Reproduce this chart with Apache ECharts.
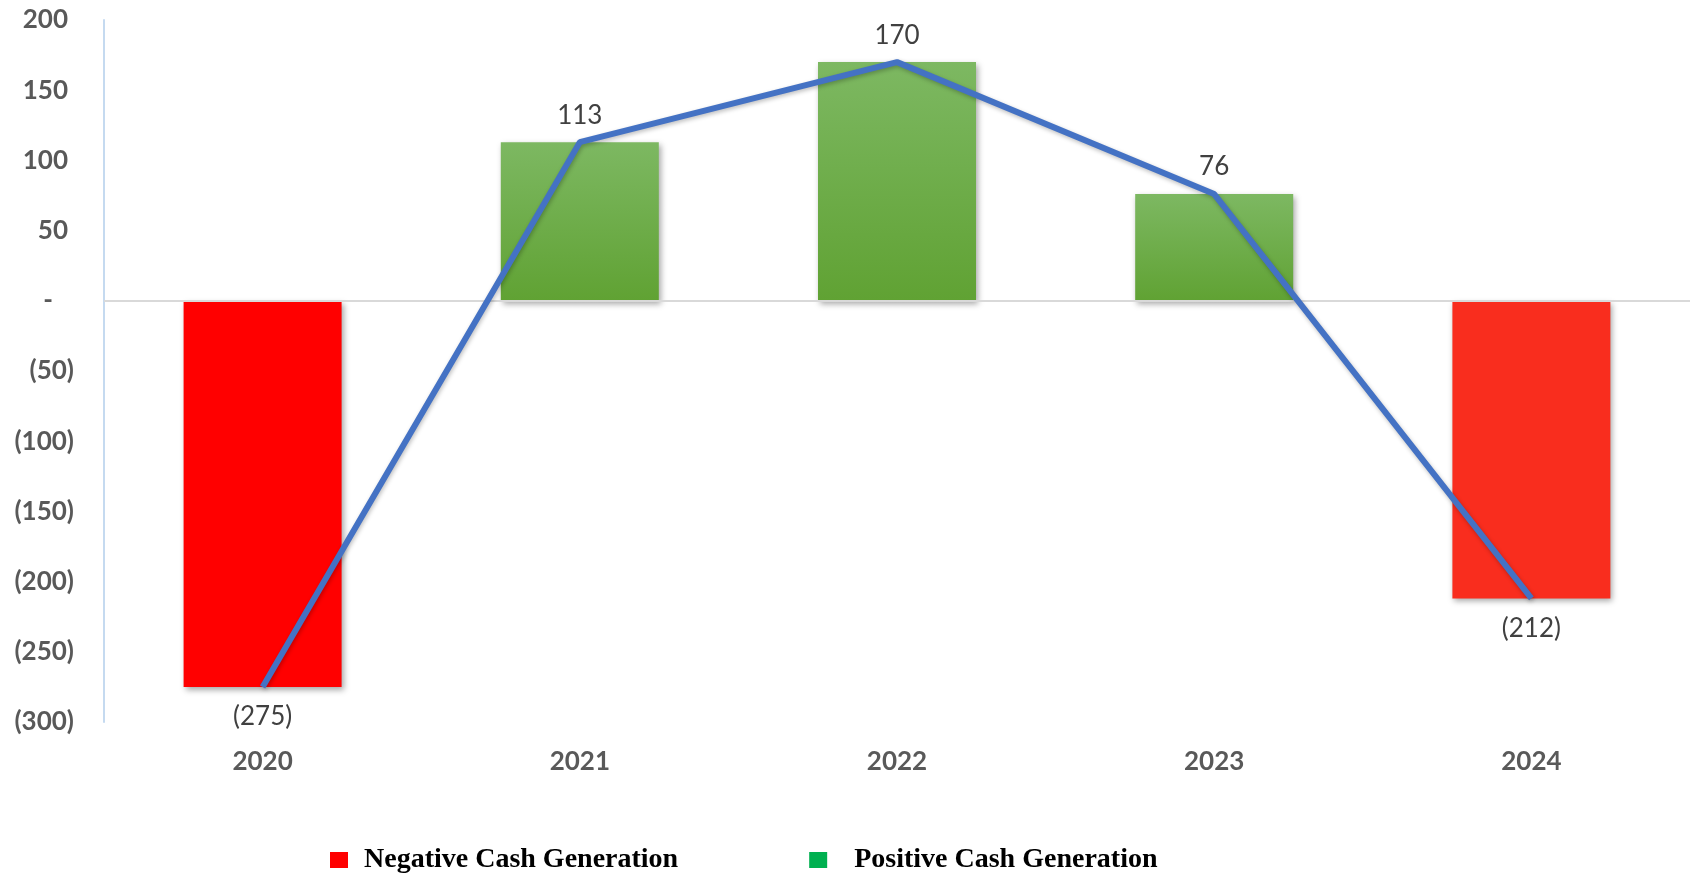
<!DOCTYPE html>
<html>
<head>
<meta charset="utf-8">
<script src="https://cdn.jsdelivr.net/npm/echarts@6/dist/echarts.min.js"></script>
<style>
  html, body { margin: 0; padding: 0; background: #ffffff; }
  #chart { width: 1691px; height: 873px; }
</style>
</head>
<body>
<div id="chart"></div>
<script>
// Yearly cash generation
const years = ['2020', '2021', '2022', '2023', '2024'];
const cashGeneration = [-275, 113, 170, 76, -212];
const negativeName = 'Negative Cash Generation';
const positiveName = 'Positive Cash Generation';

// split into the two bar series (gaps where the sign doesn't match)
const negativeValues = cashGeneration.map(v => (v < 0 ? v : '-'));
const positiveValues = cashGeneration.map(v => (v > 0 ? v : '-'));
const negativeColors = ['#FF0000', null, null, null, '#F92D1E'];

const labelFont = { fontFamily: 'Lato', fontSize: 26, color: '#404040' };
const barShadow = { shadowColor: 'rgba(0,0,0,0.35)', shadowBlur: 6, shadowOffsetX: 2, shadowOffsetY: 3 };
const legendText = {
  fontFamily: 'Liberation Serif',
  fontWeight: 'bold',
  fontSize: 28,
  color: '#000000'
};

const chart = echarts.init(document.getElementById('chart'), null, { renderer: 'canvas' });

chart.setOption({
  backgroundColor: '#ffffff',
  animation: false,
  grid: { left: 104, right: 1, top: 20, bottom: 151, containLabel: false },
  legend: {
    data: [
      {
        name: negativeName,
        itemStyle: { color: '#FF0000', shadowBlur: 0, shadowColor: 'transparent' },
        textStyle: Object.assign({ padding: [0, 0, 0, 11] }, legendText)
      },
      {
        name: positiveName,
        itemStyle: { color: '#00B050', shadowBlur: 0, shadowColor: 'transparent' },
        textStyle: Object.assign({ padding: [0, 0, 0, 22] }, legendText)
      }
    ],
    icon: 'rect',
    left: 325,
    top: 841,
    itemWidth: 18,
    itemHeight: 16,
    itemGap: 131,
    selectedMode: false,
    textStyle: legendText
  },
  xAxis: {
    type: 'category',
    data: years,
    boundaryGap: true,
    axisLine: { show: false },
    axisTick: { show: false },
    axisLabel: {
      margin: 27,
      fontFamily: 'Lato',
      fontWeight: 'bold',
      fontSize: 26,
      color: '#595959'
    },
    splitLine: { show: false }
  },
  yAxis: {
    type: 'value',
    min: -300,
    max: 200,
    interval: 50,
    axisLine: { show: true, onZero: false, lineStyle: { color: '#C5DAF0', width: 2 } },
    axisTick: { show: false },
    splitLine: { show: false },
    axisLabel: {
      margin: 30,
      formatter: function (v) {
        if (v > 0) return '{p|' + v + '}';
        if (v === 0) return '{z|-}';
        return '{n|(' + Math.abs(v) + ')}';
      },
      rich: {
        p: { fontFamily: 'Lato', fontWeight: 'bold', fontSize: 26, color: '#595959', padding: [0, 6, 0, 0] },
        z: { fontFamily: 'Lato', fontWeight: 'bold', fontSize: 26, color: '#595959', padding: [0, 21, 0, 0] },
        n: { fontFamily: 'Lato', fontWeight: 'bold', fontSize: 26, color: '#595959' }
      }
    }
  },
  series: [
    {
      name: negativeName,
      type: 'bar',
      barWidth: 158,
      barGap: '-100%',
      z: 2,
      data: negativeValues.map((v, i) => (v === '-' ? v : {
        value: v,
        itemStyle: { color: negativeColors[i] }
      })),
      itemStyle: Object.assign({ color: '#FF0000' }, barShadow),
      label: Object.assign({
        show: true,
        position: 'bottom',
        distance: 17,
        formatter: p => '(' + Math.abs(p.value) + ')'
      }, labelFont),
      markLine: {
        silent: true,
        symbol: 'none',
        label: { show: false },
        lineStyle: { color: '#D9D9D9', width: 2, type: 'solid' },
        data: [{ yAxis: 0 }]
      }
    },
    {
      name: positiveName,
      type: 'bar',
      barWidth: 158,
      barGap: '-100%',
      z: 2,
      data: positiveValues,
      itemStyle: Object.assign({
        color: new echarts.graphic.LinearGradient(0, 0, 0, 1, [
          { offset: 0, color: '#7DB862' },
          { offset: 1, color: '#60A233' }
        ])
      }, barShadow),
      label: Object.assign({
        show: true,
        position: 'top',
        distance: 14
      }, labelFont)
    },
    {
      name: 'Cash Generation Trend',
      type: 'line',
      data: cashGeneration,
      z: 5,
      symbol: 'none',
      smooth: false,
      lineStyle: {
        color: '#4472C4',
        width: 6,
        shadowColor: 'rgba(0,0,0,0.25)',
        shadowBlur: 4,
        shadowOffsetX: 1,
        shadowOffsetY: 2
      },
      itemStyle: { color: '#4472C4' }
    }
  ]
});
</script>
</body>
</html>
